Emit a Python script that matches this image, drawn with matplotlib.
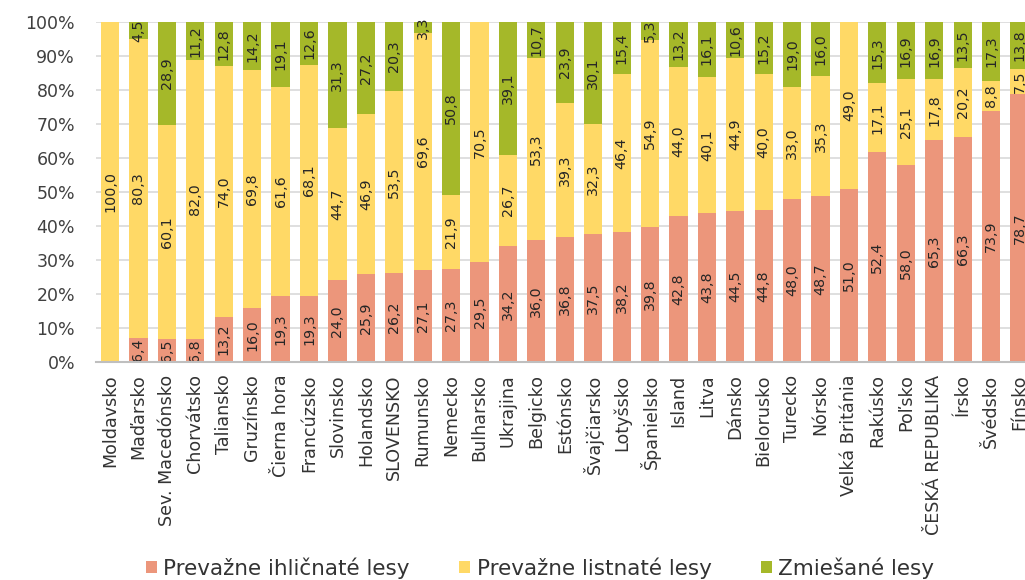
import matplotlib
matplotlib.use("Agg")
import matplotlib.pyplot as plt
import numpy as np
from matplotlib.patches import Patch

plt.rcParams['font.family'] = ['DejaVu Sans']

countries = ["Moldavsko", "Maďarsko", "Sev. Macedónsko", "Chorvátsko", "Taliansko",
             "Gruzínsko", "Čierna hora", "Francúzsko", "Slovinsko", "Holandsko",
             "SLOVENSKO", "Rumunsko", "Nemecko", "Bulharsko", "Ukrajina", "Belgicko",
             "Estónsko", "Švajčiarsko", "Lotyšsko", "Španielsko", "Island", "Litva",
             "Dánsko", "Bielorusko", "Turecko", "Nórsko", "Velká Británia", "Rakúsko",
             "Poľsko", "ČESKÁ REPUBLIKA", "Írsko", "Švédsko", "Fínsko"]
ihlicnate = [0.0, 6.4, 6.5, 6.8, 13.2, 16.0, 19.3, 19.3, 24.0, 25.9, 26.2, 27.1, 27.3,
             29.5, 34.2, 36.0, 36.8, 37.5, 38.2, 39.8, 42.8, 43.8, 44.5, 44.8, 48.0,
             48.7, 51.0, 52.4, 58.0, 65.3, 66.3, 73.9, 78.7]
listnate = [100.0, 80.3, 60.1, 82.0, 74.0, 69.8, 61.6, 68.1, 44.7, 46.9, 53.5, 69.6,
            21.9, 70.5, 26.7, 53.3, 39.3, 32.3, 46.4, 54.9, 44.0, 40.1, 44.9, 40.0,
            33.0, 35.3, 49.0, 17.1, 25.1, 17.8, 20.2, 8.8, 7.5]
zmiesane = [0.0, 4.5, 28.9, 11.2, 12.8, 14.2, 19.1, 12.6, 31.3, 27.2, 20.3, 3.3, 50.8,
            0.0, 39.1, 10.7, 23.9, 30.1, 15.4, 5.3, 13.2, 16.1, 10.6, 15.2, 19.0, 16.0,
            0.0, 15.3, 16.9, 16.9, 13.5, 17.3, 13.8]
series_names = ["Prevažne ihličnaté lesy", "Prevažne listnaté lesy", "Zmiešané lesy"]
colors = ["#EC967B", "#FFD966", "#A5B829"]

data = np.array([ihlicnate, listnate, zmiesane])
totals = data.sum(axis=0)
shares = data / totals * 100

fig = plt.figure(figsize=(10.25, 5.8), dpi=100)
ax = fig.add_axes([0.0935, 0.376, 0.915, 0.586])

x = np.arange(len(countries))
bottom = np.zeros(len(countries))
for i in range(3):
    ax.bar(x, shares[i], 0.64, bottom=bottom, color=colors[i], zorder=2)
    for j in range(len(countries)):
        if data[i, j] > 0:
            ax.text(x[j], bottom[j] + shares[i, j] / 2,
                    f"{data[i, j]:.1f}".replace('.', ','),
                    rotation=90, ha='center', va='center', fontsize=10.3,
                    color='#262626', zorder=3)
    bottom += shares[i]

ax.set_xlim(-0.5, len(countries) - 0.5)
ax.set_ylim(0, 100)
ax.set_yticks(np.arange(0, 101, 10))
ax.set_yticklabels([f"{v}%" for v in range(0, 101, 10)], fontsize=12.5, color='#404040')
ax.set_xticks(x)
ax.set_xticklabels(countries, rotation=90, fontsize=12.6, color='#333333')
ax.tick_params(axis='both', length=0)
ax.tick_params(axis='y', pad=15)
ax.tick_params(axis='x', pad=9)
ax.grid(axis='y', color='#D9D9D9', linewidth=1.2, zorder=0)
ax.set_axisbelow(True)
for s in ['left', 'right', 'top']:
    ax.spines[s].set_visible(False)
ax.spines['bottom'].set_color('#BFBFBF')
ax.spines['bottom'].set_linewidth(1.5)
ax.spines['bottom'].set_zorder(4)

handles = [Patch(facecolor=c, edgecolor='none') for c in colors]
fig.legend(handles, series_names, loc='center', bbox_to_anchor=(0.527, 0.021),
           ncol=3, frameon=False, fontsize=15.5, handlelength=0.5, handleheight=0.5,
           handletextpad=0.3, columnspacing=2.3, borderpad=0, borderaxespad=0,
           labelcolor='#333333')

fig.savefig("out.png", dpi=100)
